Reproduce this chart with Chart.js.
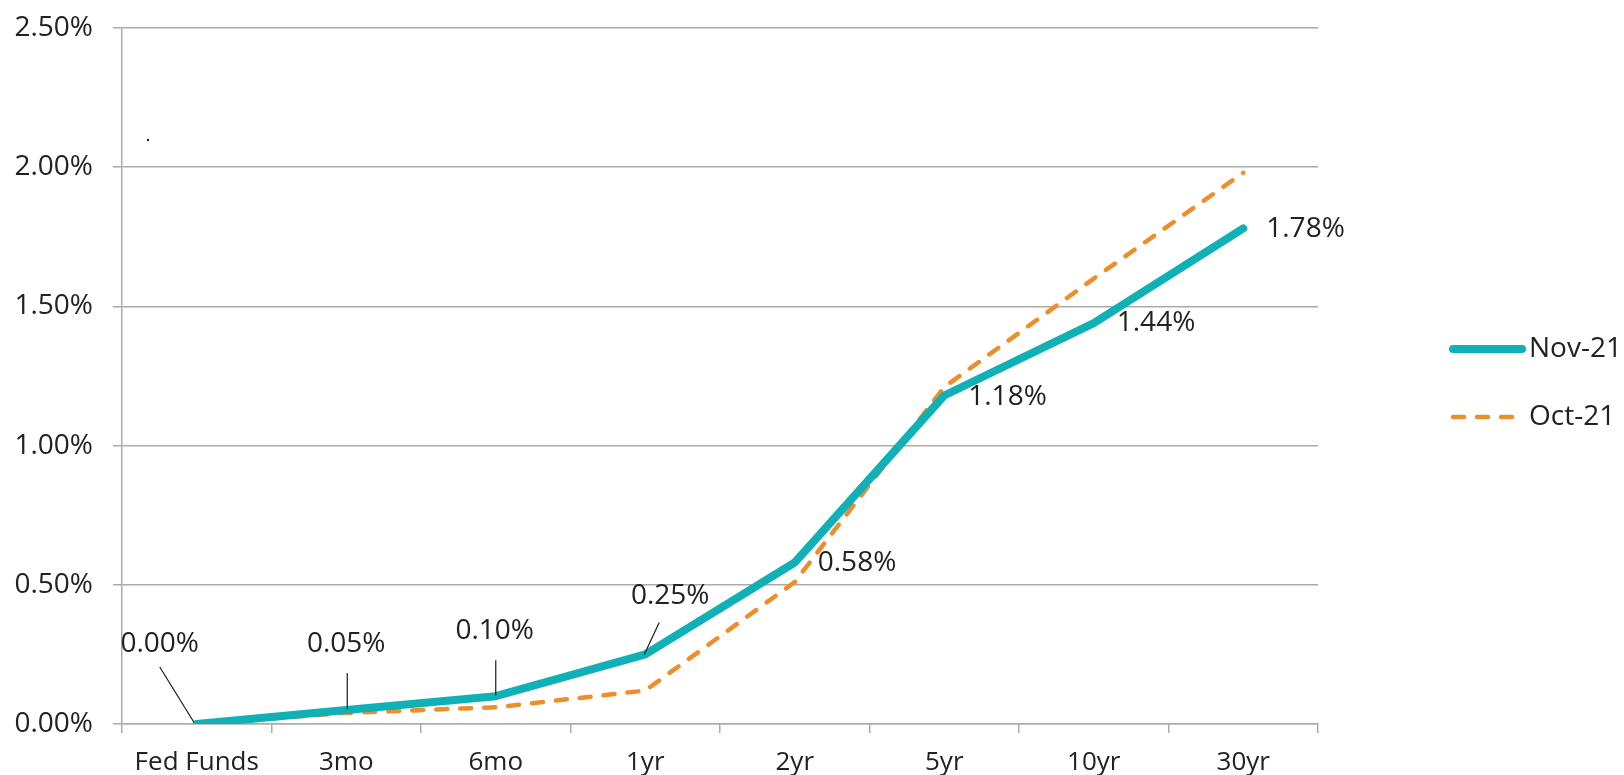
<!DOCTYPE html>
<html>
<head>
<meta charset="utf-8">
<title>Treasury yield curve</title>
<script src="https://cdn.jsdelivr.net/npm/chart.js@4.4.1/dist/chart.umd.min.js"></script>
<style>
  html, body { margin: 0; padding: 0; background: #ffffff; }
  #wrap { width: 1624px; height: 775px; }
</style>
</head>
<body>
<div id="wrap"><canvas id="curve" width="1624" height="775"></canvas></div>
<script>
// Maturities and yields (percent)
const categories = ['Fed Funds', '3mo', '6mo', '1yr', '2yr', '5yr', '10yr', '30yr'];
const nov21 = [0.00, 0.05, 0.10, 0.25, 0.58, 1.18, 1.44, 1.78];
const oct21 = [0.00, 0.04, 0.06, 0.12, 0.51, 1.21, 1.60, 1.98];
const seriesNames = ['Nov-21', 'Oct-21'];
const yTickValues = [0, 0.5, 1.0, 1.5, 2.0, 2.5];

const FONT = '"Open Sans", Lato, sans-serif';
const FONT_SIZE = 28;
const X_FONT_SIZE = 26;
const TEXT = '#222222';
const GRID = '#ABABAB';
const TEAL = '#0FB1B6';
const ORANGE = '#EE8E2B';

const pct = v => v.toFixed(2) + '%';

// Where each Nov-21 value label sits relative to its point, with optional leader line
const labelPlacement = [
  { align: 'center', dx: -37, dy: -80, leader: [[-37, -57], [-3, -2]] },
  { align: 'center', dx: 0,   dy: -66, leader: [[1, -37], [1, -1]] },
  { align: 'center', dx: -1,  dy: -65, leader: [[0, -36], [0, -1]] },
  { align: 'center', dx: 25,  dy: -58, leader: [[14, -32], [-1, 0]] },
  { align: 'left',   dx: 23,  dy: 1 },
  { align: 'left',   dx: 24,  dy: 2 },
  { align: 'left',   dx: 23,  dy: 0 },
  { align: 'left',   dx: 23,  dy: 1 }
];

const valueLabels = {
  id: 'valueLabels',
  afterDatasetsDraw(chart) {
    const ctx = chart.ctx;
    const meta = chart.getDatasetMeta(0);
    const values = chart.data.datasets[0].data;
    ctx.save();
    ctx.font = FONT_SIZE + 'px ' + FONT;
    ctx.fillStyle = TEXT;
    ctx.textBaseline = 'middle';
    meta.data.forEach((pt, i) => {
      const p = labelPlacement[i];
      if (p.leader) {
        ctx.beginPath();
        ctx.strokeStyle = '#1a1a1a';
        ctx.lineWidth = 1.2;
        ctx.moveTo(pt.x + p.leader[0][0], pt.y + p.leader[0][1]);
        ctx.lineTo(pt.x + p.leader[1][0], pt.y + p.leader[1][1]);
        ctx.stroke();
      }
      ctx.textAlign = p.align;
      ctx.fillText(pct(values[i]), pt.x + p.dx, pt.y + p.dy);
    });
    // small stray point near the top-left of the plot
    const a = chart.chartArea;
    ctx.beginPath();
    ctx.arc(a.left + 26, a.top + 112, 1.2, 0, Math.PI * 2);
    ctx.fill();
    ctx.restore();
  }
};

const sideLegend = {
  id: 'sideLegend',
  afterDraw(chart) {
    const ctx = chart.ctx;
    const a = chart.chartArea;
    const rows = [a.top + 321, a.top + 389];
    ctx.save();
    chart.data.datasets.forEach((ds, i) => {
      const y = rows[i];
      ctx.beginPath();
      ctx.strokeStyle = ds.borderColor;
      ctx.lineWidth = ds.borderWidth;
      ctx.lineCap = 'round';
      ctx.setLineDash(ds.borderDash || []);
      ctx.moveTo(a.right + 135, y);
      ctx.lineTo(a.right + 204, y);
      ctx.stroke();
      ctx.setLineDash([]);
      ctx.font = FONT_SIZE + 'px ' + FONT;
      ctx.fillStyle = TEXT;
      ctx.textAlign = 'left';
      ctx.textBaseline = 'middle';
      ctx.fillText(ds.label, a.right + 211, y);
    });
    ctx.restore();
  }
};

new Chart(document.getElementById('curve'), {
  type: 'line',
  data: {
    labels: categories,
    datasets: [
      {
        label: seriesNames[0],
        data: nov21,
        borderColor: TEAL,
        backgroundColor: TEAL,
        borderWidth: 8,
        borderCapStyle: 'round',
        borderJoinStyle: 'round',
        pointRadius: 0,
        tension: 0,
        order: 0
      },
      {
        label: seriesNames[1],
        data: oct21,
        borderColor: ORANGE,
        backgroundColor: ORANGE,
        borderWidth: 4.5,
        borderDash: [11, 13],
        borderCapStyle: 'round',
        borderJoinStyle: 'round',
        pointRadius: 0,
        tension: 0,
        order: 1
      }
    ]
  },
  options: {
    responsive: false,
    devicePixelRatio: 1,
    animation: false,
    layout: { padding: { left: 0, top: 28, right: 306, bottom: 0 } },
    plugins: {
      legend: { display: false },
      tooltip: { enabled: false }
    },
    scales: {
      x: {
        offset: true,
        grid: {
          display: true,
          offset: true,
          drawOnChartArea: false,
          drawTicks: true,
          tickLength: 9,
          color: GRID,
          lineWidth: 1.5
        },
        border: { display: true, color: GRID, width: 1.5 },
        ticks: {
          padding: 14,
          color: TEXT,
          font: { family: FONT, size: X_FONT_SIZE },
          maxRotation: 0,
          autoSkip: false
        },
        afterFit(scale) { scale.height = 51; }
      },
      y: {
        min: 0,
        max: 2.5,
        afterBuildTicks(scale) { scale.ticks = yTickValues.map(v => ({ value: v })); },
        grid: {
          color: GRID,
          lineWidth: 1.5,
          drawTicks: true,
          tickLength: 9
        },
        border: { display: true, color: GRID, width: 1.5 },
        ticks: {
          padding: 20,
          color: TEXT,
          font: { family: FONT, size: FONT_SIZE },
          callback: v => pct(v)
        },
        afterFit(scale) {
          scale.width = 122;
          scale.paddingTop = 0;
          scale.paddingBottom = 0;
        }
      }
    }
  },
  plugins: [valueLabels, sideLegend]
});
</script>
</body>
</html>
